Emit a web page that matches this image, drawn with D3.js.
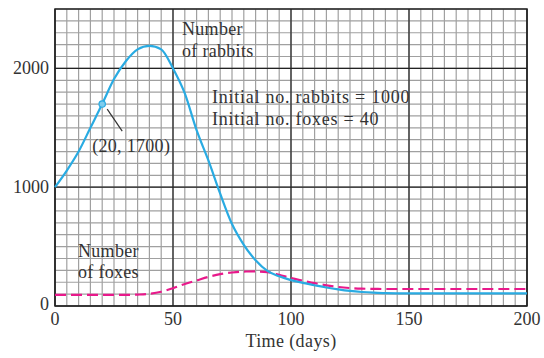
<!DOCTYPE html>
<html>
<head>
<meta charset="utf-8">
<script src="https://cdn.jsdelivr.net/npm/d3@7"></script>
<style>
  body { margin: 0; background: #fff; }
  text { font-family: "Liberation Serif", "DejaVu Serif", serif; fill: #333; }
</style>
</head>
<body>
<div id="chart"></div>
<script>
// values
const days = [0, 5, 10, 15, 20, 25, 30, 35, 40, 45, 50, 55, 60, 65, 70, 75, 80, 85, 90, 95,
  100, 105, 110, 115, 120, 125, 130, 135, 140, 150, 160, 170, 180, 190, 200];
const rabbits = [1000, 1140, 1300, 1500, 1700, 1910, 2060, 2160, 2190, 2160, 2000, 1790, 1480, 1225, 945, 690, 515, 385, 295, 250,
  218, 195, 175, 156, 140, 127, 118, 112, 108, 106, 106, 106, 106, 106, 106];
const foxes = [93, 93, 93, 93, 93, 93, 94, 96, 102, 120, 150, 185, 215, 245, 268, 282, 290, 291, 285, 262,
  235, 213, 192, 174, 160, 151, 146, 144, 143, 143, 143, 143, 143, 143, 143];
const xTicks = [0, 50, 100, 150, 200];
const yTicks = [0, 1000, 2000];
const marked = [20, 1700];

const width = 544, height = 358;
const margin = {top: 9, right: 17, bottom: 52, left: 55};

const svg = d3.select('#chart')
  .append('svg')
  .attr('width', width)
  .attr('height', height);

const x = d3.scaleLinear()
  .domain([0, 200])
  .range([margin.left, width - margin.right]);

const y = d3.scaleLinear()
  .domain([0, 2500])
  .range([height - margin.bottom, margin.top]);

// minor grid
const grid = svg.append('g');
grid.selectAll('.vx')
  .data(d3.range(0, 201, 5))
  .join('line')
  .attr('x1', d => x(d)).attr('x2', d => x(d))
  .attr('y1', y(0)).attr('y2', y(2500))
  .attr('stroke', '#a0a0a0')
  .attr('stroke-width', 1.2);
grid.selectAll('.hy')
  .data(d3.range(0, 2501, 100))
  .join('line')
  .attr('y1', d => y(d)).attr('y2', d => y(d))
  .attr('x1', x(0)).attr('x2', x(200))
  .attr('stroke', '#a0a0a0')
  .attr('stroke-width', 1.2);

// major grid
grid.selectAll('.mx')
  .data(xTicks)
  .join('line')
  .attr('x1', d => x(d)).attr('x2', d => x(d))
  .attr('y1', y(0)).attr('y2', y(2500))
  .attr('stroke', '#222')
  .attr('stroke-width', 1.2);
grid.selectAll('.my')
  .data(yTicks)
  .join('line')
  .attr('y1', d => y(d)).attr('y2', d => y(d))
  .attr('x1', x(0)).attr('x2', x(200))
  .attr('stroke', '#222')
  .attr('stroke-width', 1.2);

svg.append('rect')
  .attr('x', x(0)).attr('y', y(2500))
  .attr('width', x(200) - x(0)).attr('height', y(0) - y(2500))
  .attr('fill', 'none')
  .attr('stroke', '#222')
  .attr('stroke-width', 1.5);

// tick labels
svg.append('g')
  .attr('font-size', 18)
  .attr('text-anchor', 'middle')
  .selectAll('text')
  .data(xTicks)
  .join('text')
  .attr('x', d => x(d))
  .attr('y', y(0) + 19)
  .text(d => d);

svg.append('g')
  .attr('font-size', 18)
  .attr('text-anchor', 'end')
  .selectAll('text')
  .data(yTicks)
  .join('text')
  .attr('x', x(0) - 6)
  .attr('y', d => d === 0 ? y(d) + 4 : y(d) + 6)
  .text(d => d);

svg.append('text')
  .attr('x', (x(0) + x(200)) / 2)
  .attr('y', height - 11)
  .attr('text-anchor', 'middle')
  .attr('font-size', 18)
  .attr('letter-spacing', 0.4)
  .text('Time (days)');

// curves
const pts = s => days.map((d, i) => [d, s[i]]);
const line = d3.line()
  .x(d => x(d[0]))
  .y(d => y(d[1]))
  .curve(d3.curveMonotoneX);

svg.append('path')
  .datum(pts(foxes))
  .attr('fill', 'none')
  .attr('stroke', '#e8198b')
  .attr('stroke-width', 2.2)
  .attr('stroke-dasharray', '11,5')
  .attr('d', line);

svg.append('path')
  .datum(pts(rabbits))
  .attr('fill', 'none')
  .attr('stroke', '#29abe2')
  .attr('stroke-width', 2.2)
  .attr('d', line);

// marked point and leader
const px = x(marked[0]), py = y(marked[1]);
svg.append('line')
  .attr('x1', px + 5).attr('y1', py + 5)
  .attr('x2', px + 20).attr('y2', py + 27)
  .attr('stroke', '#333')
  .attr('stroke-width', 1.2);
svg.append('circle')
  .attr('cx', px).attr('cy', py)
  .attr('r', 3.2)
  .attr('fill', '#7fcdee')
  .attr('stroke', '#29abe2')
  .attr('stroke-width', 1.2);
svg.append('text')
  .attr('x', px - 10).attr('y', py + 48)
  .attr('font-size', 18)
  .attr('letter-spacing', 0.3)
  .text(`(${marked[0]}, ${marked[1]})`);

// annotations
const notes = [
  {t: 'Number', x: 182, y: 35, ls: 0.3},
  {t: 'of rabbits', x: 182, y: 57, ls: 0.3},
  {t: 'Initial no. rabbits = 1000', x: 212, y: 103, ls: 0.75},
  {t: 'Initial no. foxes = 40', x: 212, y: 125, ls: 0.75},
  {t: 'Number', x: 78, y: 257, ls: 0.3},
  {t: 'of foxes', x: 78, y: 278, ls: 0.3}
];
svg.append('g')
  .attr('font-size', 18)
  .selectAll('text')
  .data(notes)
  .join('text')
  .attr('x', d => d.x)
  .attr('y', d => d.y)
  .attr('letter-spacing', d => d.ls)
  .text(d => d.t);
</script>
</body>
</html>
